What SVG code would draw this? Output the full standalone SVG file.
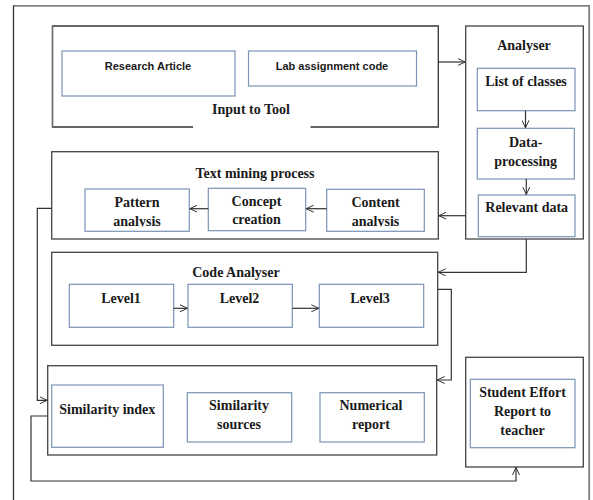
<svg xmlns="http://www.w3.org/2000/svg" width="593" height="500" viewBox="0 0 593 500">
<style>
.bg{fill:#ffffff}
.cont{fill:#fff;stroke:#444;stroke-width:1.3}
.box{fill:#fff;stroke:#7b93b6;stroke-width:1.2}
.t{font-family:"Liberation Serif","DejaVu Serif",serif;font-weight:bold;font-size:14px;fill:#1a1a1a;text-anchor:middle}
.s{font-family:"Liberation Sans","DejaVu Sans",sans-serif;font-weight:bold;font-size:11px;fill:#1a1a1a;text-anchor:middle}
.c{fill:none;stroke:#333;stroke-width:1.2}
</style>
<defs>
<marker id="arr" viewBox="0 0 8 8" refX="7.5" refY="4" markerWidth="8" markerHeight="8" markerUnits="userSpaceOnUse" orient="auto">
<path d="M0,0.5 L7.5,4 L0,7.5" fill="none" stroke="#333" stroke-width="1"/>
</marker>
<clipPath id="clipPat"><rect x="85" y="189" width="104" height="37.5"/></clipPath>
<clipPath id="clipCon"><rect x="327" y="189" width="97" height="37.5"/></clipPath>
</defs>
<rect class="bg" x="0" y="0" width="593" height="500"/>
<g id="frame">
<path d="M13.5,501 V5.7 H589.3 V501" fill="none" stroke="#333" stroke-width="1.3"/>
<path d="M13.5,5.7 H589.3 V501" fill="none" stroke="#808080" stroke-width="1.5"/>
</g>
<g id="input-to-tool">
<path d="M193,127 H52.5 V26 H438.3 V127 H310.5" fill="none" stroke="#333" stroke-width="1.3"/>
<path d="M52.5,127 V26 H438.3" fill="none" stroke="#6a6a6a" stroke-width="1.3"/>
<text class="t" x="251" y="113.5">Input to Tool</text>
</g>
<g id="research-article">
<rect class="box" x="62" y="51" width="173" height="45"/>
<text class="s" x="148" y="70">Research Article</text>
</g>
<g id="lab-assignment-code">
<rect class="box" x="248.5" y="51" width="168" height="35"/>
<text class="s" x="332" y="70">Lab assignment code</text>
</g>
<g id="analyser">
<rect class="cont" x="465.7" y="26" width="117.6" height="213"/>
<text class="t" x="524" y="49.5">Analyser</text>
</g>
<g id="list-of-classes">
<rect class="box" x="477.3" y="68.3" width="97.7" height="42.4"/>
<text class="t" x="526" y="86">List of classes</text>
</g>
<g id="data-processing">
<rect class="box" x="477.3" y="128.3" width="97" height="50.7"/>
<text class="t" x="525.7" y="146.7">Data-</text>
<text class="t" x="525.7" y="166">processing</text>
</g>
<g id="relevant-data">
<rect class="box" x="478.3" y="195" width="96.7" height="41.7"/>
<text class="t" x="526.7" y="211.7">Relevant data</text>
</g>
<g id="text-mining-process">
<rect class="cont" x="51.7" y="151.7" width="386.6" height="87.3"/>
<text class="t" x="255" y="177.7">Text mining process</text>
</g>
<g id="pattern-analysis">
<rect class="box" x="85" y="189" width="104.3" height="42.3"/>
<text class="t" x="137" y="206.7">Pattern</text>
<text class="t" x="137" y="226" clip-path="url(#clipPat)">analysis</text>
</g>
<g id="concept-creation">
<rect class="box" x="208.3" y="188.3" width="97.4" height="42.4"/>
<text class="t" x="256.5" y="205.7">Concept</text>
<text class="t" x="256.5" y="224.3">creation</text>
</g>
<g id="content-analysis">
<rect class="box" x="326.7" y="189.3" width="97.6" height="42"/>
<text class="t" x="375.5" y="206.7">Content</text>
<text class="t" x="375.5" y="226" clip-path="url(#clipCon)">analysis</text>
</g>
<g id="code-analyser">
<rect class="cont" x="51.7" y="252.3" width="386" height="93"/>
<text class="t" x="236" y="277.3">Code Analyser</text>
</g>
<g id="level1">
<rect class="box" x="69.3" y="284.3" width="104.4" height="43"/>
<text class="t" x="121" y="302.7">Level1</text>
</g>
<g id="level2">
<rect class="box" x="188" y="284.3" width="104.3" height="43"/>
<text class="t" x="239.5" y="303.3">Level2</text>
</g>
<g id="level3">
<rect class="box" x="319.3" y="284.3" width="104.4" height="43"/>
<text class="t" x="370" y="302.7">Level3</text>
</g>
<g id="results">
<rect class="cont" x="47.7" y="365.7" width="389" height="89.3"/>
</g>
<g id="similarity-index">
<rect class="box" x="51.7" y="385" width="111.6" height="62.3"/>
<text class="t" x="107.3" y="414">Similarity index</text>
</g>
<g id="similarity-sources">
<rect class="box" x="187.3" y="392.7" width="104.4" height="49.3"/>
<text class="t" x="239" y="410">Similarity</text>
<text class="t" x="239" y="429.3">sources</text>
</g>
<g id="numerical-report">
<rect class="box" x="320" y="392.7" width="104.3" height="49.3"/>
<text class="t" x="371" y="410">Numerical</text>
<text class="t" x="371" y="429.3">report</text>
</g>
<g id="student-effort">
<rect class="cont" x="465.7" y="357.3" width="117.6" height="109.7"/>
<rect class="box" x="470.3" y="379.3" width="104.7" height="68.4"/>
<text class="t" x="522.5" y="396.7">Student Effort</text>
<text class="t" x="522.5" y="416">Report to</text>
<text class="t" x="522.5" y="435">teacher</text>
</g>
<g id="connectors">
<path class="c" d="M438.3,62 H465.2" marker-end="url(#arr)"/>
<path class="c" d="M525.5,110.7 V127.8" marker-end="url(#arr)"/>
<path class="c" d="M526.3,179 V194.5" marker-end="url(#arr)"/>
<path class="c" d="M465.7,215.7 H438.8" marker-end="url(#arr)"/>
<path class="c" d="M326.7,208.7 H306.2" marker-end="url(#arr)"/>
<path class="c" d="M208.3,208.7 H189.8" marker-end="url(#arr)"/>
<path class="c" d="M51.7,208.3 H37.3 V400.3 H47.2" marker-end="url(#arr)"/>
<path class="c" d="M526.3,239 V272.3 H438.2" marker-end="url(#arr)"/>
<path class="c" d="M173.7,308.3 H187.5" marker-end="url(#arr)"/>
<path class="c" d="M292.3,308.3 H318.8" marker-end="url(#arr)"/>
<path class="c" d="M437.7,289.3 H451.3 V380 H437.2" marker-end="url(#arr)"/>
<path class="c" d="M47.7,416 H31 V481 H516 V467.5" marker-end="url(#arr)"/>
</g>
</svg>
